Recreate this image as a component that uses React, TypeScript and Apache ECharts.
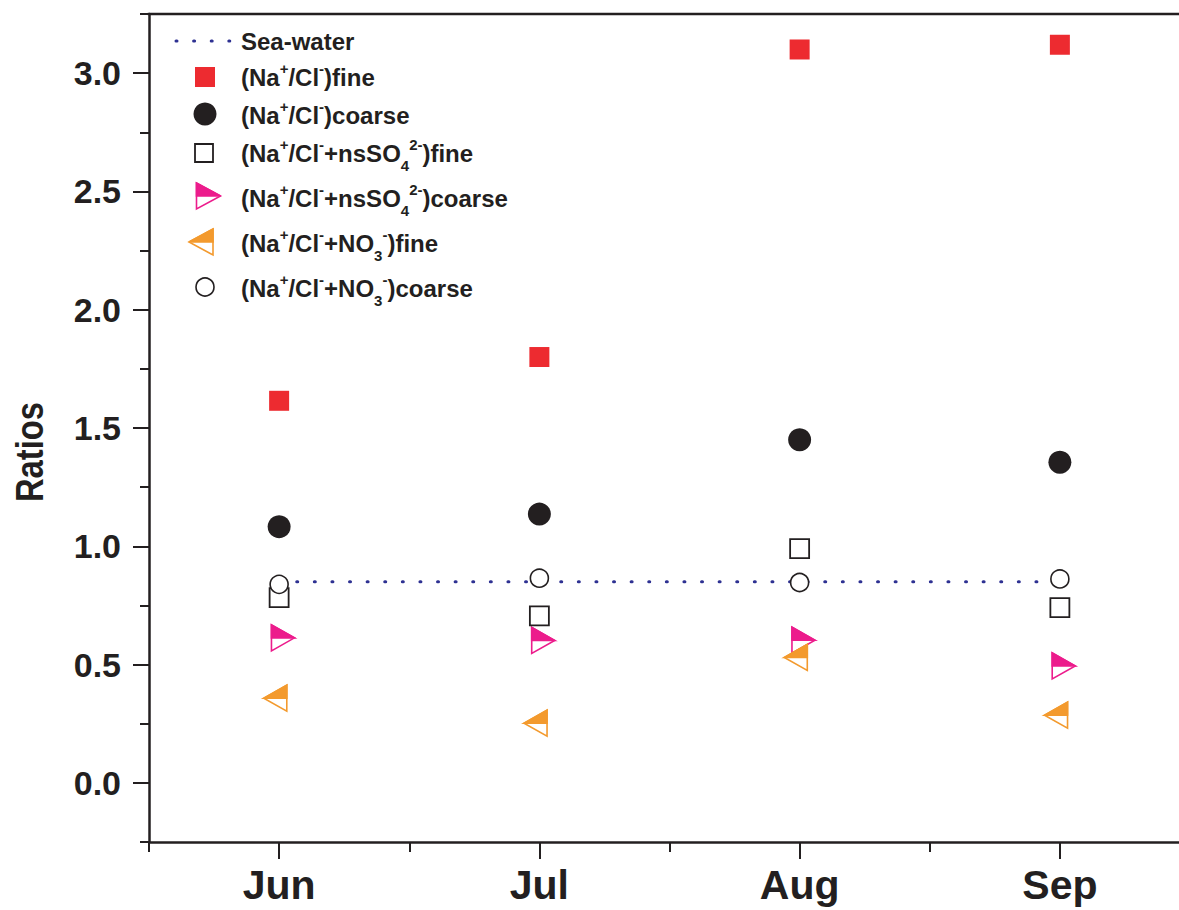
import React, { useEffect, useRef } from "react";
import * as echarts from "echarts";

const months = ["Jun", "Jul", "Aug", "Sep"];
const seaWater = 0.85;
const naClFine = [1.615, 1.8, 3.1, 3.12];
const naClCoarse = [1.083, 1.136, 1.45, 1.355];
const naClSO4Fine = [0.783, 0.706, 0.99, 0.741];
const naClSO4Coarse = [0.613, 0.602, 0.603, 0.494];
const naClNO3Fine = [0.358, 0.252, 0.53, 0.286];
const naClNO3Coarse = [0.839, 0.865, 0.847, 0.862];
const yTicksMajor = [0, 3, 0.5]; // min, max, interval for labelled ticks

const FONT = "'Liberation Sans', Arial, sans-serif";
const INK = "#231F20";
const RED = "#ED2B30";
const MAGENTA = "#EC1C8C";
const ORANGE = "#F39A2E";
const NAVY = "#2E3192";

const W = 1179;
const H = 910;
const G = { left: 149, top: 14, right: -11, bottom: 68 };
const Y_MIN = -0.25;
const Y_MAX = 3.25;

const toPairs = (arr: number[]) => arr.map((v, i) => [i, v]);

function triangleItem(color: string, dir: "right" | "left") {
  return (params: any, api: any) => {
    const p = api.coord([api.value(0), api.value(1)]);
    const w = 23;
    const h = 26;
    const T = p[1] - h / 2;
    const B = p[1] + h / 2;
    const M = p[1];
    let outline: number[][];
    let half: number[][];
    if (dir === "right") {
      const L = p[0] - w / 3;
      const R = p[0] + (2 * w) / 3;
      outline = [[L, T], [L, B], [R, M]];
      half = [[L, T], [R, M], [L, M]];
    } else {
      const R = p[0] + w / 3;
      const L = p[0] - (2 * w) / 3;
      outline = [[R, T], [R, B], [L, M]];
      half = [[R, T], [L, M], [R, M]];
    }
    return {
      type: "group",
      children: [
        { type: "polygon", shape: { points: outline }, style: { fill: "#fff", stroke: color, lineWidth: 1.6 } },
        { type: "polygon", shape: { points: half }, style: { fill: color, stroke: color, lineWidth: 1.6 } },
      ],
    };
  };
}

export default function App() {
  const ref = useRef<HTMLDivElement>(null);
  useEffect(() => {
    if (!ref.current) return;
    const chart = echarts.init(ref.current, undefined, { renderer: "svg" });

    const plotH = H - G.top - G.bottom;
    const pxPerUnit = plotH / (Y_MAX - Y_MIN);
    const g2Top = G.top + (Y_MAX - yTicksMajor[1]) * pxPerUnit;
    const g2Bottom = G.bottom + (yTicksMajor[0] - Y_MIN) * pxPerUnit;

    const rich = {
      m: { fontSize: 24, fontWeight: "bold", fontFamily: FONT, color: INK },
      sup: { fontSize: 15, fontWeight: "bold", fontFamily: FONT, color: INK, padding: [0, 0, 18, 0] },
      sub: { fontSize: 15, fontWeight: "bold", fontFamily: FONT, color: INK, padding: [24, 0, 0, 0] },
    };
    const legendText = (y: number, text: string) => ({
      type: "text",
      x: 241,
      y,
      style: { text, rich, align: "left", verticalAlign: "middle", font: `bold 24px ${FONT}`, fill: INK },
    });
    const triLegend = (cx: number, cy: number, color: string, dir: "right" | "left") => {
      const w = 24, h = 26;
      const T = cy - h / 2, B = cy + h / 2, M = cy;
      let outline: number[][], half: number[][];
      const L = cx - w / 2, R = cx + w / 2;
      if (dir === "right") {
        outline = [[L, T], [L, B], [R, M]];
        half = [[L, T], [R, M], [L, M]];
      } else {
        outline = [[R, T], [R, B], [L, M]];
        half = [[R, T], [L, M], [R, M]];
      }
      return [
        { type: "polygon", shape: { points: outline }, style: { fill: "#fff", stroke: color, lineWidth: 1.6 } },
        { type: "polygon", shape: { points: half }, style: { fill: color, stroke: color, lineWidth: 1.6 } },
      ];
    };

    const option: any = {
      animation: false,
      backgroundColor: "#fff",
      grid: [
        { ...G, outerBoundsMode: "none", show: false },
        { left: G.left, right: G.right, top: g2Top, bottom: g2Bottom, outerBoundsMode: "none", show: false },
      ],
      xAxis: [
        {
          type: "category",
          gridIndex: 0,
          data: months,
          position: "bottom",
          boundaryGap: true,
          axisLine: { onZero: false, lineStyle: { color: INK, width: 2.5 } },
          axisTick: { show: true, length: 10, lineStyle: { color: INK, width: 2 } },
          axisLabel: { fontSize: 41, fontWeight: "bold", fontFamily: FONT, color: INK, margin: 22 },
          splitLine: { show: false },
        },
        {
          type: "category",
          gridIndex: 0,
          data: months,
          position: "bottom",
          boundaryGap: true,
          axisLine: { show: false, onZero: false },
          axisTick: { show: true, alignWithLabel: true, length: 17, lineStyle: { color: INK, width: 2 } },
          axisLabel: { show: false },
          splitLine: { show: false },
        },
        { type: "value", gridIndex: 1, show: false, axisLine: { onZero: false } },
      ],
      yAxis: [
        {
          type: "value",
          gridIndex: 0,
          min: Y_MIN,
          max: Y_MAX,
          interval: 0.25,
          axisLine: { show: true, onZero: false, lineStyle: { color: INK, width: 2.5 } },
          axisTick: { show: true, length: 9, lineStyle: { color: INK, width: 2 } },
          axisLabel: { show: false },
          splitLine: { show: false },
        },
        {
          type: "value",
          gridIndex: 1,
          min: yTicksMajor[0],
          max: yTicksMajor[1],
          interval: yTicksMajor[2],
          axisLine: { show: false, onZero: false },
          axisTick: { show: true, length: 16, lineStyle: { color: INK, width: 2 } },
          axisLabel: {
            fontSize: 34,
            fontWeight: "bold",
            fontFamily: FONT,
            color: INK,
            margin: 28,
            formatter: (v: number) => v.toFixed(1),
          },
          splitLine: { show: false },
        },
      ],
      series: [
        {
          name: "Sea-water",
          type: "line",
          xAxisIndex: 0,
          yAxisIndex: 0,
          data: [[0, seaWater], [months.length - 1, seaWater]],
          symbol: "none",
          lineStyle: { color: NAVY, width: 3, type: [1, 16.6], cap: "round" },
          z: 1,
        },
        {
          name: "(Na+/Cl-)fine",
          type: "scatter",
          xAxisIndex: 0,
          yAxisIndex: 0,
          data: toPairs(naClFine),
          symbol: "rect",
          symbolSize: 20,
          itemStyle: { color: RED, opacity: 1 },
          z: 2,
        },
        {
          name: "(Na+/Cl-)coarse",
          type: "scatter",
          xAxisIndex: 0,
          yAxisIndex: 0,
          data: toPairs(naClCoarse),
          symbol: "circle",
          symbolSize: 23,
          itemStyle: { color: INK, opacity: 1 },
          z: 2,
        },
        {
          name: "(Na+/Cl-+nsSO42-)fine",
          type: "scatter",
          xAxisIndex: 0,
          yAxisIndex: 0,
          data: toPairs(naClSO4Fine),
          symbol: "rect",
          symbolSize: 19,
          itemStyle: { color: "#fff", borderColor: INK, borderWidth: 1.8, opacity: 1 },
          z: 2,
        },
        {
          name: "(Na+/Cl-+nsSO42-)coarse",
          type: "custom",
          xAxisIndex: 0,
          yAxisIndex: 0,
          data: toPairs(naClSO4Coarse),
          renderItem: triangleItem(MAGENTA, "right"),
          z: 2,
        },
        {
          name: "(Na+/Cl-+NO3-)fine",
          type: "custom",
          xAxisIndex: 0,
          yAxisIndex: 0,
          data: toPairs(naClNO3Fine),
          renderItem: triangleItem(ORANGE, "left"),
          z: 2,
        },
        {
          name: "(Na+/Cl-+NO3-)coarse",
          type: "scatter",
          xAxisIndex: 0,
          yAxisIndex: 0,
          data: toPairs(naClNO3Coarse),
          symbol: "circle",
          symbolSize: 18,
          itemStyle: { color: "#fff", borderColor: INK, borderWidth: 1.6, opacity: 1 },
          z: 3,
        },
      ],
      graphic: {
        elements: [
          {
            type: "line",
            shape: { x1: G.left - 1.25, y1: G.top, x2: W, y2: G.top },
            style: { stroke: INK, lineWidth: 2.5 },
          },
          {
            type: "text",
            x: 29,
            y: 452,
            rotation: Math.PI / 2,
            scaleX: 0.84,
            style: { text: "Ratios", font: `bold 39px ${FONT}`, fill: INK, align: "center", verticalAlign: "middle" },
          },
          {
            type: "line",
            shape: { x1: 176, y1: 41, x2: 232, y2: 41 },
            style: { stroke: NAVY, lineWidth: 3, lineDash: [1, 16.6], lineCap: "round" },
          },
          { type: "rect", shape: { x: 195, y: 67, width: 20, height: 20 }, style: { fill: RED } },
          { type: "circle", shape: { cx: 205, cy: 114, r: 11.5 }, style: { fill: INK } },
          { type: "rect", shape: { x: 195, y: 144, width: 18, height: 18 }, style: { fill: "#fff", stroke: INK, lineWidth: 1.8 } },
          ...triLegend(208.5, 196, MAGENTA, "right"),
          ...triLegend(201, 242, ORANGE, "left"),
          { type: "circle", shape: { cx: 205, cy: 287, r: 9 }, style: { fill: "#fff", stroke: INK, lineWidth: 1.6 } },
          legendText(41, "{m|Sea-water}"),
          legendText(77, "{m|(Na}{sup|+}{m|/Cl}{sup|-}{m|)fine}"),
          legendText(115, "{m|(Na}{sup|+}{m|/Cl}{sup|-}{m|)coarse}"),
          legendText(153, "{m|(Na}{sup|+}{m|/Cl}{sup|-}{m|+nsSO}{sub|4}{sup|2-}{m|)fine}"),
          legendText(198, "{m|(Na}{sup|+}{m|/Cl}{sup|-}{m|+nsSO}{sub|4}{sup|2-}{m|)coarse}"),
          legendText(243, "{m|(Na}{sup|+}{m|/Cl}{sup|-}{m|+NO}{sub|3}{sup|-}{m|)fine}"),
          legendText(288, "{m|(Na}{sup|+}{m|/Cl}{sup|-}{m|+NO}{sub|3}{sup|-}{m|)coarse}"),
        ],
      },
    };
    chart.setOption(option);
    return () => chart.dispose();
  }, []);
  return <div ref={ref} style={{ position: "absolute", left: 0, top: 0, width: W, height: H }} />;
}
